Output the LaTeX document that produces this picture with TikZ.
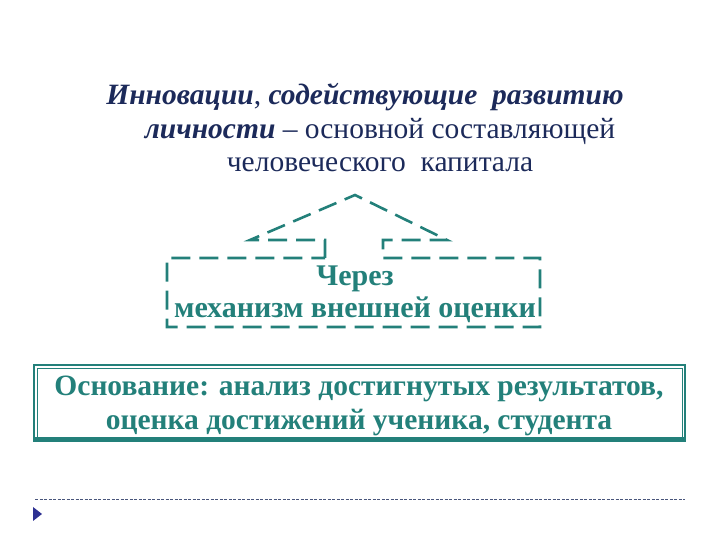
\documentclass[tikz,border=0pt]{standalone}
\usepackage{fontspec}
\setmainfont{Liberation Serif}
\definecolor{titlenavy}{HTML}{1C2A5A}
\definecolor{boxteal}{HTML}{23807A}
\definecolor{bulletblue}{HTML}{2E3192}
\begin{document}
\begin{tikzpicture}[
        x=1pt, y=1pt,
        every node/.style={
            inner sep=0pt,
            anchor=base},
        titleline/.style={
            text=titlenavy,
            font=\fontsize{29.5}{34}\selectfont},
        calloutline/.style={
            text=boxteal,
            font=\bfseries\fontsize{30}{34}\selectfont},
        baseline/.style={
            text=boxteal,
            font=\bfseries\fontsize{29.5}{34}\selectfont},
        dashedshape/.style={
            draw=boxteal,
            line width=2.6pt,
            dash pattern=on 19pt off 9pt}]
        \useasboundingbox (0,0) rectangle (720,540);

        % title
        \node[titleline] (title1) at (365,435) {\textbf{\textit{Инновации}}, \textbf{\textit{содействующие\ \ развитию}}};
        \node[titleline] (title2) at (380,401) {\textbf{\textit{личности}} – основной составляющей};
        \node[titleline] (title3) at (380,368) {человеческого\ \ капитала};

        % arrow callout
        \coordinate (rectNW) at (167,282);
        \coordinate (rectNE) at (540,282);
        \coordinate (rectSE) at (540,213);
        \coordinate (rectSW) at (167,213);
        \coordinate (shaftL) at (325,282);
        \coordinate (shaftR) at (383,282);
        \coordinate (headL) at (250,300);
        \coordinate (headR) at (447,300);
        \coordinate (apex) at (355,345);
        \draw[dashedshape] (shaftL) -- (shaftL |- headL) -- (headL) -- (apex)
            -- (headR) -- (shaftR |- headR) -- (shaftR) -- (rectNE)
            -- (rectSE) -- (rectSW) -- (rectNW) -- cycle;
        \node[calloutline] (through) at (355,254) {Через};
        \node[calloutline] (mechanism) at (355,222) {механизм внешней оценки};

        % basis box
        \coordinate (boxSW) at (34,99);
        \coordinate (boxNE) at (685,175);
        \draw[boxteal, line width=1.2pt] (boxSW) rectangle (boxNE);
        \draw[boxteal, line width=0.8pt] ([shift={(3,3)}]boxSW) rectangle ([shift={(-3,-3)}]boxNE);
        \draw[boxteal, line width=3.5pt] ([yshift=2]boxSW) -- ([yshift=2]boxSW -| boxNE);
        \node[baseline] (basis1) at (359,144) {Основание: анализ достигнутых результатов,};
        \node[baseline] (basis2) at (359,110) {оценка достижений ученика, студента};

        % footer
        \coordinate (ruleL) at (35,41);
        \coordinate (ruleR) at (685,41);
        \draw[titlenavy!80, line width=0.6pt, dash pattern=on 3pt off 1.5pt] (ruleL) -- (ruleR);
        \fill[bulletblue] (33,33) -- (42,26) -- (33,19) -- cycle;
    \end{tikzpicture}
\end{document}
